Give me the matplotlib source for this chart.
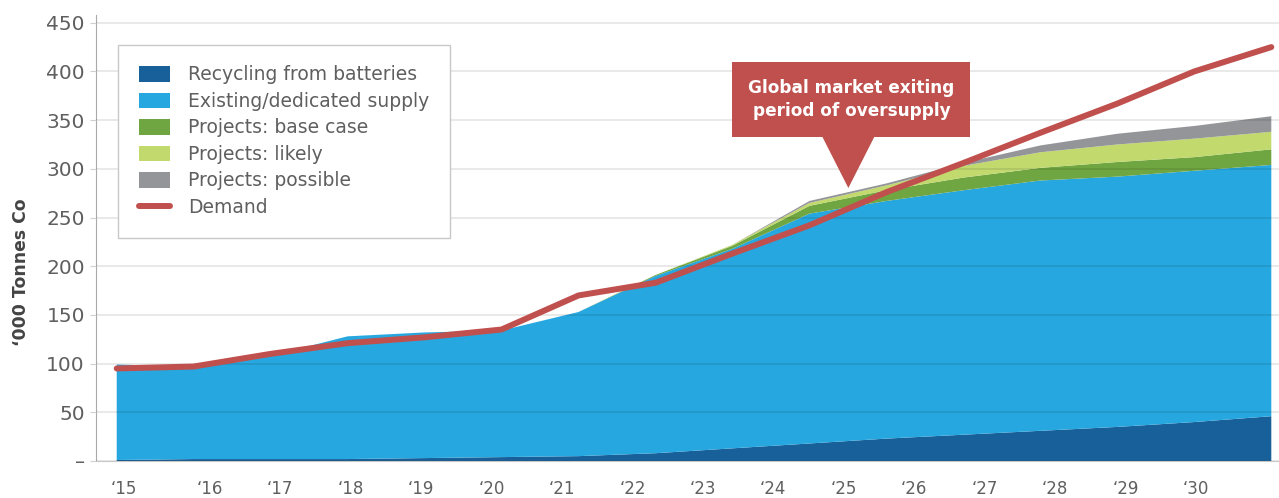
import numpy as np
from matplotlib import pyplot as plt
from matplotlib.patches import Rectangle, Polygon

# datos ('000 toneladas de cobalto), 2015-2030
years = ["‘15", "‘16", "‘17", "‘18", "‘19", "‘20", "‘21", "‘22",
         "‘23", "‘24", "‘25", "‘26", "‘27", "‘28", "‘29", "‘30"]
recycling = [1, 2, 2, 2, 3, 4, 5, 8, 13, 18, 23, 27, 31, 35, 40, 46]
existing = [98, 95, 106, 126, 129, 130, 148, 182, 205, 236, 244, 251, 257, 257, 258, 258]
base_case = [0, 0, 0, 0, 0, 0, 0, 1, 3, 8, 11, 13, 13, 15, 14, 16]
likely = [0, 0, 0, 0, 0, 0, 0, 0, 1, 3, 5, 12, 16, 18, 19, 18]
possible = [0, 0, 0, 0, 0, 0, 0, 0, 0, 2, 2, 3, 7, 11, 13, 16]
demand = [95, 97, 110, 121, 127, 135, 170, 183, 213, 242, 276, 306, 337, 367, 400, 425]

labels = ["Recycling from batteries", "Existing/dedicated supply",
          "Projects: base case", "Projects: likely", "Projects: possible"]
colors = ["#17609a", "#27a7df", "#70a641", "#c2d96e", "#939598"]
red = "#c0504d"
gray_txt = "#5f5f5f"

x = np.arange(len(years))

fig = plt.figure(figsize=(12.79, 4.98), dpi=100)
ax = fig.add_axes([0.075, 0.0743, 0.925, 0.8957])

ax.stackplot(x, recycling, existing, base_case, likely, possible,
             colors=colors, labels=labels, linewidth=0, zorder=2)
ax.plot(x, demand, color=red, lw=4.3, solid_capstyle="round",
        solid_joinstyle="round", label="Demand", zorder=4)

ax.set_xlim(-0.27, 15.1)
ax.set_ylim(0, 458)

# gridlines arriba de las areas
ax.set_yticks(np.arange(0, 451, 50))
ax.set_yticklabels(["–"] + [str(v) for v in range(50, 451, 50)],
                   fontsize=14.5, color=gray_txt)
ax.yaxis.grid(True, color="black", alpha=0.1, lw=1.2, zorder=3)
ax.set_axisbelow(False)
for gl in ax.get_ygridlines():
    gl.set_zorder(3)

# etiquetas del eje x (no estan alineadas con los puntos)
xt = [0.09] + list(1.21 + 0.915 * np.arange(15))
ax.set_xticks(xt)
ax.set_xticklabels(years, fontsize=12, color=gray_txt)
ax.tick_params(axis="x", length=0, pad=14)
ax.tick_params(axis="y", length=4.5, color="#d0d0d0", pad=3.5)

for s in ["top", "right"]:
    ax.spines[s].set_visible(False)
ax.spines["left"].set_color("#a9a9a9")
ax.spines["bottom"].set_color("#c8c8c8")

ax.set_ylabel("‘000 Tonnes Co", fontsize=12.4, fontweight="bold",
              color="#444444")
ax.yaxis.set_label_coords(-0.0555, 0.424)

leg = ax.legend(loc="upper left", bbox_to_anchor=(0.0186, 0.933),
                borderaxespad=0, fontsize=13.5, frameon=True, fancybox=False,
                framealpha=1, edgecolor="#c8c8c8", borderpad=1.1,
                handlelength=1.7, handleheight=0.9, handletextpad=0.95,
                labelspacing=0.4)
leg.get_frame().set_linewidth(1)
for t in leg.get_texts():
    t.set_color(gray_txt)
leg.set_zorder(5)

# callout
ax.add_patch(Rectangle((0.538, 0.726), 0.201, 0.169, transform=ax.transAxes,
                       facecolor=red, edgecolor="none", zorder=6, clip_on=False))
ax.add_patch(Polygon([[0.614, 0.727], [0.658, 0.727], [0.636, 0.612]],
                     closed=True, transform=ax.transAxes, facecolor=red,
                     edgecolor="none", zorder=6))
ax.text(0.6385, 0.81, "Global market exiting\nperiod of oversupply",
        transform=ax.transAxes, ha="center", va="center", color="white",
        fontsize=12.2, fontweight="bold", linespacing=1.4, zorder=7)

plt.savefig("out.png", dpi=100)
